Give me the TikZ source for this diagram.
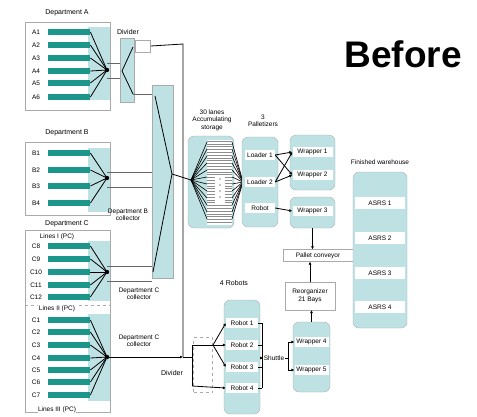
\documentclass[tikz,border=0pt]{standalone}
\usepackage{fontspec}
\setmainfont{Liberation Sans}
\usetikzlibrary{calc,positioning,arrows.meta}

\definecolor{barteal}{RGB}{28,150,138}
\definecolor{paleteal}{RGB}{190,225,227}
\definecolor{framegray}{RGB}{170,170,170}

\tikzset{
  hd/.style={font=\fontsize{7}{8}\selectfont, inner sep=0.5pt, align=center},
  lbl/.style={font=\fontsize{6.5}{7.5}\selectfont, inner sep=0.5pt, align=center},
  bar/.style={fill=barteal, draw=none, anchor=west, minimum width=42pt, minimum height=5.5pt, inner sep=0pt},
  deptbox/.style={draw=framegray, fill=white, line width=0.4pt, inner sep=0pt},
  panel/.style={fill=paleteal, draw=framegray, line width=0.3pt, inner sep=0pt},
  colmn/.style={panel, rounded corners=6pt},
  row/.style={fill=white, draw=none, inner sep=0pt, minimum height=10pt, font=\fontsize{6.5}{7.5}\selectfont},
  wbox/.style={fill=white, draw=framegray, line width=0.4pt, inner sep=1pt, align=center, font=\fontsize{6.5}{7.5}\selectfont},
  fan/.style={line width=0.8pt},
  feed/.style={line width=0.35pt, black!60},
  link/.style={line width=0.8pt},
  flow/.style={line width=0.8pt, -{Latex[length=3pt,width=3pt]}},
}

\begin{document}
\begin{tikzpicture}[x=1pt,y=-1pt]
  \useasboundingbox (0,0) rectangle (477,416);
  \node[font=\fontsize{37}{40}\selectfont\bfseries] (title) at (403,54) {Before};

  % Department A
  \node[hd] (deptA) at (67,13) {Department A};
  \node[deptbox, minimum width=85pt, minimum height=88pt] (boxA) at (67.5,66) {};
  \fill[paleteal] (88,27) rectangle (110,100);
  \coordinate (jA) at (107,70);
  \foreach \y/\n in {32/1,45/2,58/3,71/4,83/5,97/6}
  {
    \node[bar] (A\n) at (48,\y) {};
    \node[lbl] (tA\n) at (36,\y) {A\n};
    \draw[fan] (A\n.east) -- (jA);
  }
  \fill (jA) circle[radius=2.2pt];

  % Department B
  \node[hd] (deptB) at (67,133) {Department B};
  \node[deptbox, minimum width=85pt, minimum height=73pt] (boxB) at (67.5,178.5) {};
  \fill[paleteal] (88,148) rectangle (110,212);
  \coordinate (jB) at (107,178);
  \foreach \y/\n in {153/1,170/2,186/3,203/4}
  {
    \node[bar] (B\n) at (48,\y) {};
    \node[lbl] (tB\n) at (36,\y) {B\n};
    \draw[fan] (B\n.east) -- (jB);
  }
  \fill (jB) circle[radius=2.2pt];

  % Department C
  \node[hd] (deptC) at (67,224) {Department C};
  \node[deptbox, minimum width=85pt, minimum height=182pt] (boxC) at (67.5,321) {};
  \draw[framegray, dashed, line width=0.3pt] (25,305) -- (110,305);
  \fill[paleteal] (88,241) rectangle (110,301);
  \fill[paleteal] (88,314) rectangle (110,401);
  \coordinate (jC) at (107,272);
  \coordinate (jD) at (107,357);
  \foreach \y/\n in {246/8,259/9,272/10,285/11,297/12}
  {
    \node[bar] (C\n) at (48,\y) {};
    \node[lbl] (tC\n) at (36,\y) {C\n};
    \draw[fan] (C\n.east) -- (jC);
  }
  \foreach \y/\n in {320/1,332/2,345/3,358/4,370/5,382/6,395/7}
  {
    \node[bar] (C\n) at (48,\y) {};
    \node[lbl] (tC\n) at (36,\y) {C\n};
    \draw[fan] (C\n.east) -- (jD);
  }
  \fill (jC) circle[radius=2.2pt];
  \fill (jD) circle[radius=2.2pt];
  \node[lbl, fill=white] (lineI) at (57,237) {Lines I (PC)};
  \node[lbl, fill=white] (lineII) at (57,309) {Lines II (PC)};
  \node[lbl, fill=white] (lineIII) at (57,410) {Lines III (PC)};

  % divider after department A
  \node[hd] (divAlbl) at (128,32) {Divider};
  \node[panel, minimum width=14pt, minimum height=64pt] (divA) at (127,70) {};
  \coordinate (dAin) at (122,71);
  \coordinate (dAup) at (133,47);
  \coordinate (dAdn) at (133,94);
  \draw[fan] (dAup) -- (dAin) -- (dAdn);
  \draw[feed] ($(jA)+(0,-7)$) -- ($(divA.west)+(0,-7)$);
  \draw[feed] ($(jA)+(0,8)$) -- ($(divA.west)+(0,8)$);
  \node[wbox, minimum width=15pt, minimum height=12pt] (outA) at (143,46) {};
  \coordinate (trunkTop) at (183,44);
  \coordinate (dv) at (183,357);
  \draw[link] (outA.east) -- (trunkTop) -- (dv);

  % collector column
  \node[panel, minimum width=21pt, minimum height=193pt] (colB) at (162.5,181.5) {};
  \coordinate (cbTop) at (155,96);
  \coordinate (cbTip) at (172,174);
  \coordinate (cbBot) at (153,272);
  \draw[fan] (cbTop) -- (cbTip) -- (cbBot);
  \draw[feed] (dAdn) -- (dAdn -| colB.west);
  \draw[feed] ($(jB)+(0,-6)$) -- ($(jB -| colB.west)+(0,-6)$);
  \draw[feed] ($(jB)+(0,9)$) -- ($(jB -| colB.west)+(0,9)$);
  \draw[feed] ($(jC)+(0,-6)$) -- ($(jC -| colB.west)+(0,-6)$);
  \draw[feed] ($(jC)+(0,9)$) -- ($(jC -| colB.west)+(0,9)$);
  \node[lbl] (collB) at (128,215) {Department B\\collector};
  \node[lbl] (collC) at (139,294) {Department C\\collector};
  \node[lbl] (collD) at (139,341) {Department C\\collector};

  % accumulating storage
  \node[lbl] (storeLbl) at (212,120) {30 lanes\\Accumulating\\storage};
  \node[colmn, minimum width=46pt, minimum height=92pt] (store) at (211,182) {};
  \node[fill=white, inner sep=0pt, minimum width=25pt, minimum height=85pt] (lanes) at (219.5,182) {};
  \foreach \k in {0,...,29}
    \draw[black!45, line width=0.3pt] (207,{141+2.8*\k}) -- (232,{141+2.8*\k});
  \fill[white] (215,175) rectangle (225,203);
  \foreach \y in {179,185,191,197}
    \fill (220,\y) circle[radius=0.7pt];
  \coordinate (sIn) at (191,180);
  \coordinate (sOut) at (243,182);
  \draw[link] (cbTip) -- (sIn);
  \foreach \y in {142,149,...,223}
  {
    \draw[line width=0.6pt] (sIn) -- (207,\y);
    \draw[line width=0.6pt] (232,\y) -- (sOut);
  }

  % palletizers
  \node[lbl] (palLbl) at (263,121) {3\\Palletizers};
  \node[colmn, minimum width=36pt, minimum height=90pt] (palz) at (260,182) {};
  \node[row, minimum width=30pt] (load1) at (260,155) {Loader 1};
  \node[row, minimum width=30pt] (load2) at (260,182) {Loader 2};
  \node[row, minimum width=30pt] (robo) at (260,208) {Robot};

  % wrappers
  \node[colmn, minimum width=45pt, minimum height=55pt] (wrapU) at (312.5,162.5) {};
  \node[colmn, minimum width=45pt, minimum height=31pt] (wrapL) at (312.5,212.5) {};
  \node[row, minimum width=40pt] (wr1) at (312.5,152) {Wrapper 1};
  \node[row, minimum width=40pt] (wr2) at (312.5,175) {Wrapper 2};
  \node[row, minimum width=40pt] (wr3) at (312.5,211) {Wrapper 3};
  \draw[flow] (load1.east) -- (wr1.west);
  \draw[flow] (load1.east) -- (wr2.west);
  \draw[flow] (load2.east) -- (wr1.west);
  \draw[flow] (load2.east) -- (wr2.west);
  \draw[flow] (robo.east) -- (wr3.west);

  % pallet conveyor and reorganizer
  \node[wbox, minimum width=70pt, minimum height=12pt] (pallet) at (318,255.5) {Pallet conveyor};
  \node[wbox, minimum width=50pt, minimum height=28pt] (reorg) at (310,296) {Reorganizer\\21 Bays};
  \draw[flow] (wrapL.south) -- (wrapL.south |- pallet.north);
  \draw[flow] (reorg.north) -- (reorg.north |- pallet.south);

  % warehouse
  \node[lbl] (whLbl) at (380,162) {Finished warehouse};
  \node[colmn, minimum width=54pt, minimum height=156pt] (wh) at (380,250) {};
  \foreach \y/\n in {203/1,238/2,273/3,307/4}
    \node[row, minimum width=50pt, minimum height=12pt] (asrs\n) at (380,\y) {ASRS \n};

  % robots
  \node[hd] (robLbl) at (234,283) {4 Robots};
  \node[colmn, minimum width=36pt, minimum height=114pt] (robs) at (242,357) {};
  \foreach \y/\n in {323/1,345/2,367/3,388/4}
    \node[row, minimum width=32pt] (rob\n) at (242,\y) {Robot \n};

  % divider after department C
  \node[hd] (divDlbl) at (172,373) {Divider};
  \node[draw=framegray, dashed, line width=0.3pt, minimum width=19pt, minimum height=55pt] (dbox) at (203,365) {};
  \coordinate (brM) at (192,357);
  \coordinate (brU) at (192,345);
  \coordinate (brD) at (192,386);
  \coordinate (fU) at (213,345);
  \draw[flow] (jD) -- (dv);
  \draw[link] (dv) -- (brM);
  \draw[link] (brU) -- (brD);
  \draw[link] (brU) -- (fU);
  \draw[flow] (fU) -- (rob1.west);
  \draw[flow] (fU) -- (rob2.west);
  \draw[flow] (fU) -- (rob3.west);
  \draw[flow] (brD) -- (rob4.west);

  % shuttle
  \node[lbl] (shuttle) at (274,358) {Shuttle};
  \coordinate (shU) at (262,323);
  \coordinate (shD) at (262,388);
  \draw[link] (shU) -- (shD);
  \foreach \n in {1,...,4}
    \draw[link] (rob\n.east) -- (rob\n.east -| shU);
  \draw[flow] (shU |- shuttle) -- (shuttle.west);

  % wrappers 4 and 5
  \node[colmn, minimum width=37pt, minimum height=70pt] (wrapB) at (311.5,357) {};
  \node[row, minimum width=34pt] (wr4) at (311.5,342) {Wrapper 4};
  \node[row, minimum width=34pt] (wr5) at (311.5,370) {Wrapper 5};
  \coordinate (swU) at (288,342);
  \coordinate (swD) at (288,370);
  \draw[link] (shuttle.east) -- (shuttle.east -| swU);
  \draw[link] (swU) -- (swD);
  \draw[flow] (swU) -- (wr4.west);
  \draw[flow] (swD) -- (wr5.west);
  \draw[flow] (wrapB.north) -- (wrapB.north |- reorg.south);
\end{tikzpicture}
\end{document}
